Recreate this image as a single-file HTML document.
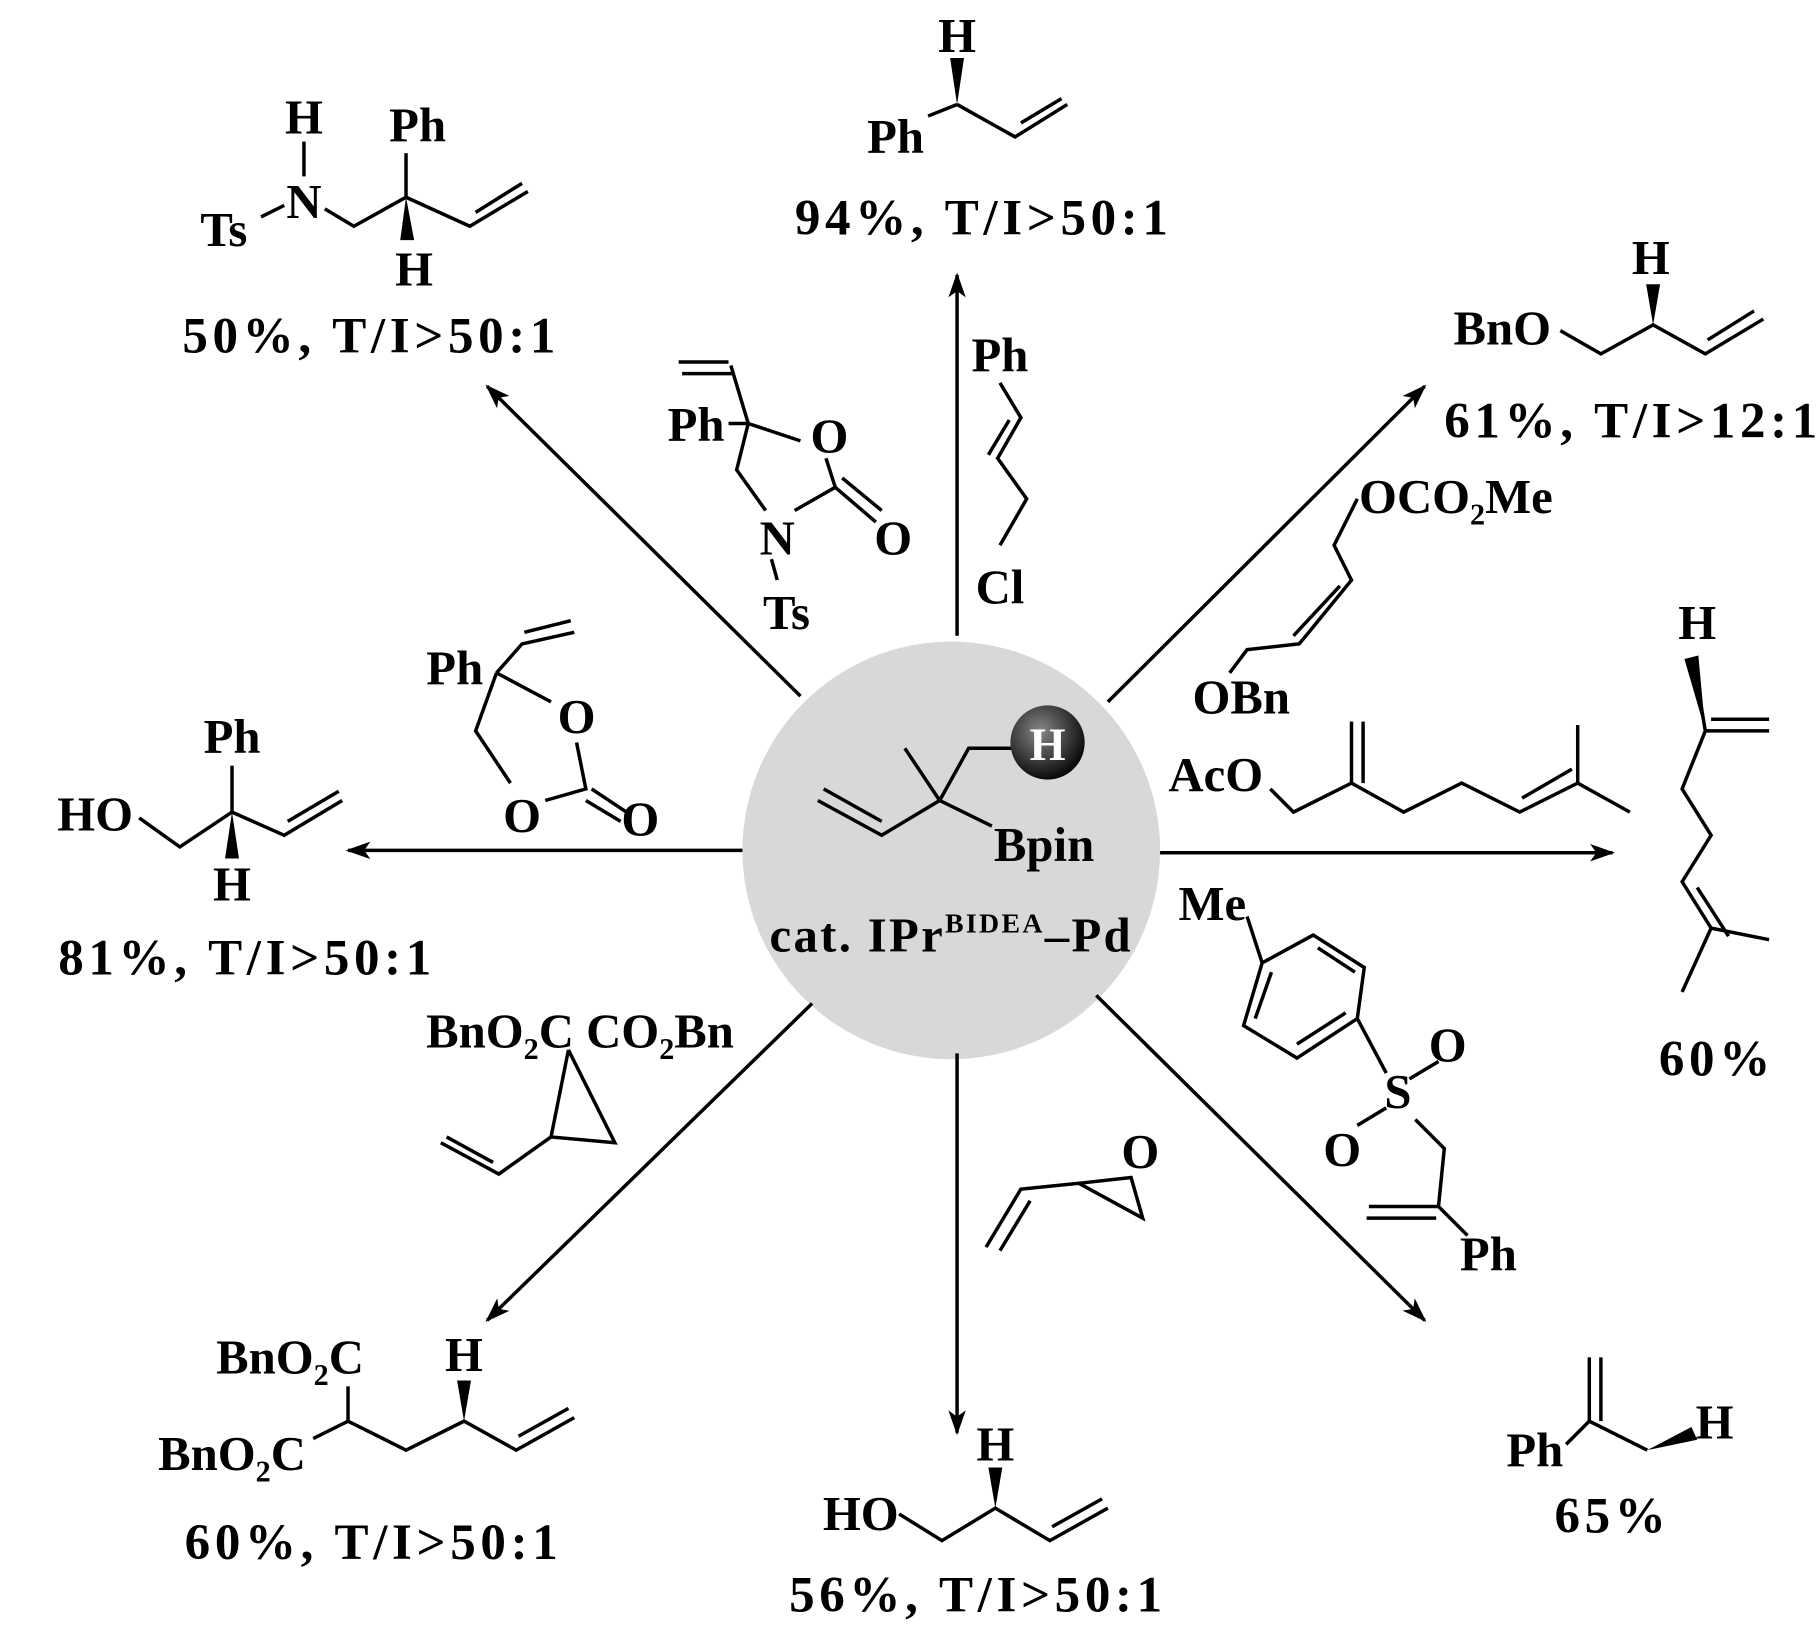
<!DOCTYPE html>
<html><head><meta charset="utf-8"><style>
html,body{margin:0;padding:0;background:#fff;}
svg{display:block;}
text{font-family:"Liberation Serif",serif;font-weight:bold;fill:#000;}
.l{font-size:42px;}
.y{font-size:44px;letter-spacing:4px;}
</style></head><body>
<svg width="1819" height="1630" viewBox="0 0 1568 1405" xmlns="http://www.w3.org/2000/svg">
<defs>
<marker id="ar" viewBox="0 0 20 14" refX="18" refY="7" markerWidth="22" markerHeight="15" orient="auto" markerUnits="userSpaceOnUse"><path d="M0,0 L20,7 L0,14 L5,7 Z" fill="#000"/></marker>
<radialGradient id="g" cx="0.4" cy="0.35" r="0.7"><stop offset="0" stop-color="#888"/><stop offset="1" stop-color="#000"/></radialGradient></defs>
<circle cx="820" cy="733" r="180" fill="#d8d8d8"/>
<g stroke="#000" stroke-width="3" fill="none" marker-end="url(#ar)">
<line x1="825" y1="548" x2="825" y2="237"/>
<line x1="955" y1="605" x2="1228" y2="333"/>
<line x1="1000" y1="735" x2="1390" y2="735"/>
<line x1="945" y1="858" x2="1228" y2="1138"/>
<line x1="825" y1="908" x2="825" y2="1235"/>
<line x1="700" y1="865" x2="420" y2="1138"/>
<line x1="640" y1="733" x2="300" y2="733"/>
<line x1="690" y1="600" x2="420" y2="333"/>
</g>
<g stroke="#000" stroke-width="3" fill="none">
<polyline points="705,690 760,720 810,690 855,712"/><line x1="710" y1="680" x2="760" y2="708"/>
<line x1="810" y1="690" x2="780" y2="645"/><polyline points="810,690 835,645 872,645"/>
<line x1="800" y1="100" x2="825" y2="90"/><polyline points="825,90 875,118 920,90"/><line x1="880" y1="106" x2="915" y2="85"/>
<polyline points="862,330 880,360 860,395 885,430 862,470"/><line x1="870" y1="362" x2="852" y2="392"/>
<line x1="262" y1="122" x2="262" y2="152"/><line x1="225" y1="187" x2="245" y2="177"/>
<polyline points="280,180 305,195 350,170 405,195 455,165"/><line x1="410" y1="183" x2="450" y2="158"/>
<line x1="350" y1="170" x2="350" y2="132"/>
<!-- oxazolidinone -->
<line x1="585" y1="312" x2="628" y2="312"/><line x1="588" y1="322" x2="632" y2="322"/>
<polyline points="630,315 645,365 690,380"/><line x1="628" y1="365" x2="645" y2="365"/>
<polyline points="645,365 635,405 660,440"/><polyline points="685,440 720,420 712,395"/><line x1="720" y1="420" x2="755" y2="450"/><line x1="726" y1="412" x2="760" y2="440"/><line x1="665" y1="482" x2="670" y2="500"/>
<polyline points="1345,285 1380,305 1425,280 1470,305 1520,275"/><line x1="1472" y1="293" x2="1512" y2="268"/>
<polyline points="1170,430 1150,470 1165,500 1120,555 1075,560 1060,580"/><line x1="1155" y1="505" x2="1115" y2="548"/>
<polyline points="1095,680 1115,700 1165,675 1210,700 1260,675 1310,700 1360,675 1405,700"/><line x1="1165" y1="675" x2="1165" y2="622"/><line x1="1175" y1="675" x2="1175" y2="622"/><line x1="1312" y1="688" x2="1355" y2="663"/><line x1="1360" y1="675" x2="1360" y2="625"/>
<polyline points="1465,600 1470,630 1450,680 1475,720 1450,760 1475,800 1450,855"/><line x1="1470" y1="630" x2="1525" y2="630"/><line x1="1475" y1="620" x2="1525" y2="620"/><line x1="1463" y1="765" x2="1490" y2="807"/><line x1="1475" y1="800" x2="1525" y2="810"/>
<!-- sulfone -->
<line x1="1075" y1="790" x2="1088" y2="830"/>
<polygon points="1088,830 1132,806 1176,834 1170,878 1118,912 1072,884"/>
<line x1="1136" y1="817" x2="1168" y2="838"/><line x1="1160" y1="873" x2="1118" y2="900"/><line x1="1082" y1="878" x2="1096" y2="838"/>
<line x1="1170" y1="878" x2="1195" y2="925"/><line x1="1215" y1="930" x2="1240" y2="915"/><line x1="1170" y1="970" x2="1195" y2="955"/><polyline points="1220,965 1245,990 1240,1040 1265,1065"/><line x1="1240" y1="1040" x2="1180" y2="1040"/><line x1="1238" y1="1050" x2="1178" y2="1050"/>
<polyline points="850,1075 880,1025 930,1020 985,1050 975,1015 930,1020"/><line x1="862" y1="1078" x2="888" y2="1035"/>
<polyline points="775,1305 812,1328 858,1300 905,1328 955,1300"/><line x1="907" y1="1316" x2="950" y2="1292"/>
<polyline points="1350,1245 1370,1225 1420,1250"/><line x1="1370" y1="1225" x2="1370" y2="1170"/><line x1="1380" y1="1225" x2="1380" y2="1170"/>
<polyline points="490,905 475,980 530,985 490,905"/><polyline points="475,980 430,1012 380,985"/><line x1="425" y1="1002" x2="385" y2="980"/>
<polyline points="270,1240 300,1225 350,1250 400,1225 445,1250 495,1222"/><line x1="300" y1="1225" x2="300" y2="1195"/><line x1="447" y1="1238" x2="490" y2="1214"/>
<!-- dioxolanone -->
<polyline points="428,580 450,555 495,545"/><line x1="452" y1="545" x2="492" y2="535"/>
<line x1="428" y1="580" x2="475" y2="605"/><polyline points="428,580 410,630 440,675"/><polyline points="470,690 505,680 497,640"/><line x1="510" y1="680" x2="540" y2="700"/><line x1="505" y1="690" x2="535" y2="708"/>
<polyline points="120,705 155,730 200,700 245,720 295,690"/><line x1="248" y1="708" x2="292" y2="682"/><line x1="200" y1="700" x2="200" y2="660"/>
</g>
<g fill="#000">
<polygon points="825,90 819,50 831,50"/>
<polygon points="350,170 345,207 357,207"/>
<polygon points="1425,280 1419,245 1431,245"/>
<polygon points="1470,630 1452,568 1464,565"/>
<polygon points="1420,1250 1458,1230 1463,1241"/>
<polygon points="858,1300 852,1265 864,1265"/>
<polygon points="400,1225 394,1190 406,1190"/>
<polygon points="200,700 194,740 206,740"/>
</g>
<circle cx="903" cy="640" r="32" fill="url(#g)"/>
<text x="903" y="655" font-size="40" text-anchor="middle" style="fill:#fff">H</text>
<g class="l">
<text x="900" y="742" text-anchor="middle">Bpin</text>
<text x="820" y="820" text-anchor="middle" letter-spacing="2">cat. IPr<tspan font-size="24" dy="-16">BIDEA</tspan><tspan dy="16">–Pd</tspan></text>
<text x="825" y="45" text-anchor="middle">H</text><text x="772" y="132" text-anchor="middle">Ph</text>
<text x="262" y="115" text-anchor="middle">H</text><text x="262" y="188" text-anchor="middle">N</text><text x="193" y="212" text-anchor="middle">Ts</text><text x="360" y="122" text-anchor="middle">Ph</text><text x="357" y="246" text-anchor="middle">H</text>
<text x="1295" y="297" text-anchor="middle">BnO</text><text x="1423" y="236" text-anchor="middle">H</text>
<text x="1463" y="551" text-anchor="middle">H</text>
<text x="1323" y="1264" text-anchor="middle">Ph</text><text x="1478" y="1240" text-anchor="middle">H</text>
<text x="858" y="1259" text-anchor="middle">H</text><text x="742" y="1319" text-anchor="middle">HO</text>
<text x="400" y="1182" text-anchor="middle">H</text>
<text x="250" y="1184" text-anchor="middle">BnO<tspan font-size="26" dy="10">2</tspan><tspan dy="-10">C</tspan></text>
<text x="200" y="1267" text-anchor="middle">BnO<tspan font-size="26" dy="10">2</tspan><tspan dy="-10">C</tspan></text>
<text x="200" y="649" text-anchor="middle">Ph</text><text x="82" y="716" text-anchor="middle">HO</text><text x="200" y="776" text-anchor="middle">H</text>
<text x="862" y="320" text-anchor="middle">Ph</text><text x="862" y="520" text-anchor="middle">Cl</text>
<text x="600" y="380" text-anchor="middle">Ph</text><text x="715" y="390" text-anchor="middle">O</text><text x="770" y="478" text-anchor="middle">O</text><text x="670" y="478" text-anchor="middle">N</text><text x="678" y="542" text-anchor="middle">Ts</text>
<text x="1255" y="442" text-anchor="middle">OCO<tspan font-size="26" dy="10">2</tspan><tspan dy="-10">Me</tspan></text><text x="1070" y="615" text-anchor="middle">OBn</text>
<text x="1048" y="682" text-anchor="middle">AcO</text>
<text x="1045" y="793" text-anchor="middle">Me</text><text x="1205" y="955" text-anchor="middle">S</text><text x="1248" y="915" text-anchor="middle">O</text><text x="1157" y="1005" text-anchor="middle">O</text><text x="1283" y="1095" text-anchor="middle">Ph</text>
<text x="983" y="1007" text-anchor="middle">O</text>
<text x="500" y="903" text-anchor="middle">BnO<tspan font-size="26" dy="10">2</tspan><tspan dy="-10">C CO</tspan><tspan font-size="26" dy="10">2</tspan><tspan dy="-10">Bn</tspan></text>
<text x="392" y="590" text-anchor="middle">Ph</text><text x="497" y="632" text-anchor="middle">O</text><text x="450" y="717" text-anchor="middle">O</text><text x="552" y="720" text-anchor="middle">O</text>
</g>
<g class="y">
<text x="848" y="202" text-anchor="middle">94%, T/I&gt;50:1</text>
<text x="320" y="304" text-anchor="middle">50%, T/I&gt;50:1</text>
<text x="1245" y="377">61%, T/I&gt;12:1</text>
<text x="1480" y="927" text-anchor="middle">60%</text>
<text x="1390" y="1321" text-anchor="middle">65%</text>
<text x="843" y="1389" text-anchor="middle">56%, T/I&gt;50:1</text>
<text x="322" y="1344" text-anchor="middle">60%, T/I&gt;50:1</text>
<text x="213" y="840" text-anchor="middle">81%, T/I&gt;50:1</text>
</g>
</svg>
</body></html>
